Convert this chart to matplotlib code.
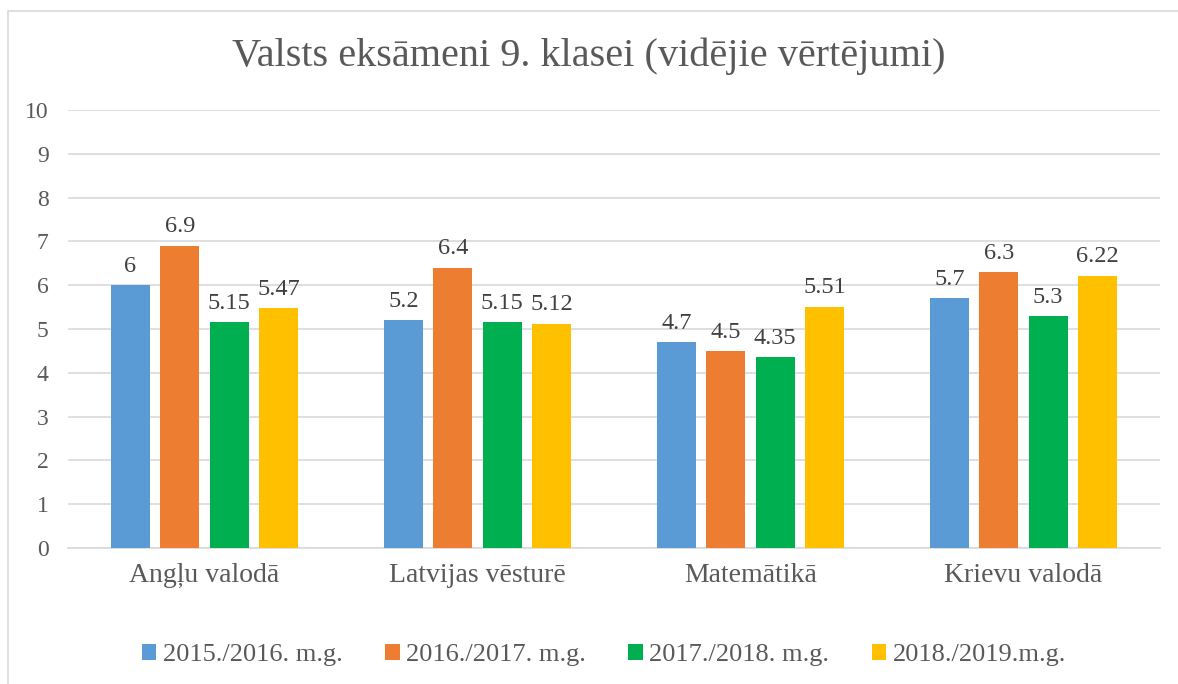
import numpy as np
import matplotlib.pyplot as plt
from matplotlib.patches import Rectangle

categories = ['Angļu valodā', 'Latvijas vēsturē', 'Matemātikā', 'Krievu valodā']
series_names = ['2015./2016. m.g.', '2016./2017. m.g.', '2017./2018. m.g.', '2018./2019.m.g.']
values_2016 = [6, 5.2, 4.7, 5.7]
values_2017 = [6.9, 6.4, 4.5, 6.3]
values_2018 = [5.15, 5.15, 4.35, 5.3]
values_2019 = [5.47, 5.12, 5.51, 6.22]
label_texts = [
    ['6', '5.2', '4.7', '5.7'],
    ['6.9', '6.4', '4.5', '6.3'],
    ['5.15', '5.15', '4.35', '5.3'],
    ['5.47', '5.12', '5.51', '6.22'],
]
colors = ['#5B9BD5', '#ED7D31', '#00B050', '#FFC000']

plt.rcParams['font.family'] = ['Liberation Serif', 'DejaVu Serif']
TXT = '#595959'

fig = plt.figure(figsize=(11.78, 6.84), dpi=100)
W, H = 1178, 684
ax = fig.add_axes([68 / W, 1 - 548 / H, (1160 - 68) / W, (548 - 110) / H])

# chart border (only left and top edges visible in the crop)
fig.patches.append(Rectangle((7.5 / W, -0.05), 1.0, 1 - 10.5 / H + 0.05,
                             transform=fig.transFigure, fill=False,
                             edgecolor='#D9D9D9', linewidth=1.2))

x = np.arange(len(categories))
step = 0.181
width = 0.143
all_vals = [values_2016, values_2017, values_2018, values_2019]
for i, (vals, name, c) in enumerate(zip(all_vals, series_names, colors)):
    bars = ax.bar(x + (i - 1.5) * step, vals, width, color=c, label=name, zorder=3)
    for rect, t in zip(bars, label_texts[i]):
        ax.annotate(t, (rect.get_x() + rect.get_width() / 2, rect.get_height()),
                    xytext=(0, 6), textcoords='offset points',
                    ha='center', va='bottom', fontsize=17.5, color='#404040')

ax.set_xlim(-0.5, len(categories) - 0.5)
ax.set_ylim(0, 10)
ax.set_yticks(range(0, 11))
ax.yaxis.grid(True, color='#D9D9D9', linewidth=1.2, zorder=0)
for s in ['top', 'right', 'left']:
    ax.spines[s].set_visible(False)
ax.spines['bottom'].set_color('#D9D9D9')
ax.spines['bottom'].set_linewidth(1.2)
ax.tick_params(length=0)
ax.tick_params(axis='y', labelsize=17, labelcolor=TXT, pad=14)
ax.tick_params(axis='x', labelsize=20, labelcolor=TXT, pad=11)
ax.set_xticks(x)
ax.set_xticklabels(categories)

fig.text(0.5, 1 - 56 / H, 'Valsts eksāmeni 9. klasei (vidējie vērtējumi)',
         ha='center', va='center', fontsize=29, color=TXT)

fig.legend(loc='center', bbox_to_anchor=(604 / W, 1 - 655 / H), ncol=4, frameon=False,
           fontsize=19, labelcolor=TXT, handlelength=0.55, handleheight=0.55,
           handletextpad=0.25, columnspacing=1.6)

fig.savefig('out.png', dpi=100)
